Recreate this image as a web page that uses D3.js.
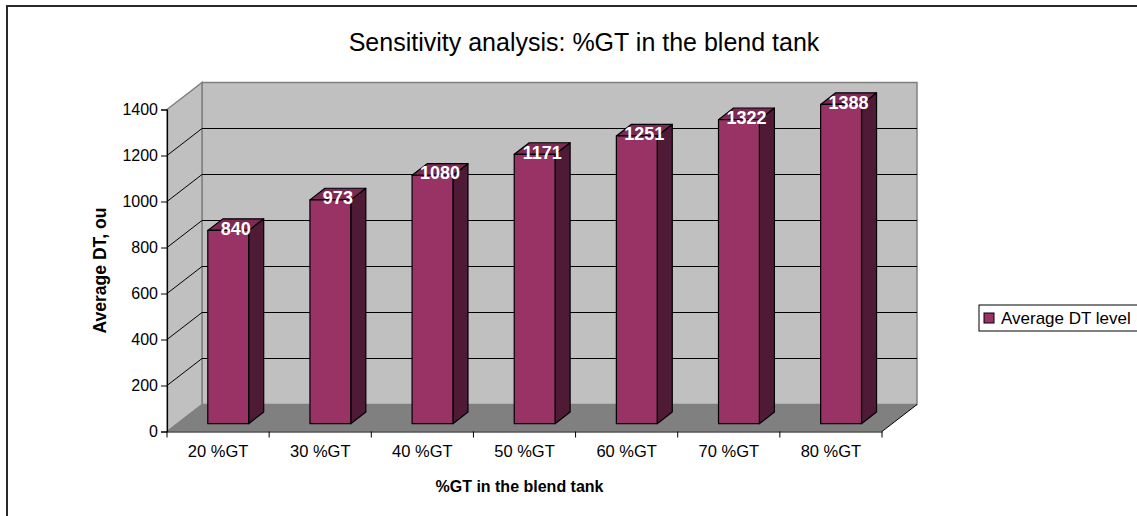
<!DOCTYPE html>
<html>
<head>
<meta charset="utf-8">
<script src="https://cdn.jsdelivr.net/npm/d3@7"></script>
<style>
  html, body { margin: 0; padding: 0; background: #fff; }
  svg { display: block; font-family: "Liberation Sans", Arial, sans-serif; }
</style>
</head>
<body>
<svg id="chart" width="1137" height="516"></svg>
<script>
// Chart data
const categories = ["20 %GT", "30 %GT", "40 %GT", "50 %GT", "60 %GT", "70 %GT", "80 %GT"];
const dtLevels = [840, 973, 1080, 1171, 1251, 1322, 1388];
const yTicks = [0, 200, 400, 600, 800, 1000, 1200, 1400];
const seriesName = "Average DT level";
const titleText = "Sensitivity analysis: %GT in the blend tank";
const xTitle = "%GT in the blend tank";
const yTitle = "Average DT, ou";

const svg = d3.select("#chart");

// Front plane of the 3D box, plus the depth vector to the back wall
const plot = { left: 167, right: 882, top: 109.5, bottom: 431.5 };
const depth = { dx: 35, dy: -27 };
const barDepthStart = 0.29, barDepthSize = 0.43;

const x = d3.scaleBand().domain(categories).range([plot.left, plot.right]).paddingInner(0).paddingOuter(0);
const y = d3.scaleLinear().domain([0, 1400]).range([plot.bottom, plot.top]);

const colors = {
  wall: "#c0c0c0", floor: "#808080", wallEdge: "#808080",
  front: "#993366", side: "#4f1a35", top: "#7d2a55"
};

// Outer chart frame
svg.append("rect").attr("x", 7).attr("y", 6).attr("width", 1200).attr("height", 600)
  .attr("fill", "none").attr("stroke", "#2a2a2a").attr("stroke-width", 2);

// Title
svg.append("text").attr("x", 584).attr("y", 51).attr("text-anchor", "middle")
  .attr("font-size", 25).attr("fill", "#000").text(titleText);

const pts = p => p.map(d => d.join(",")).join(" ");
const bx = plot.left + depth.dx, by = depth.dy;

// Back wall
svg.append("polygon").attr("points", pts([
  [bx, plot.top + by], [plot.right + depth.dx, plot.top + by],
  [plot.right + depth.dx, plot.bottom + by], [bx, plot.bottom + by]
])).attr("fill", colors.wall).attr("stroke", colors.wallEdge).attr("stroke-width", 1.5);

// Side wall
svg.append("polygon").attr("points", pts([
  [plot.left, plot.top], [bx, plot.top + by], [bx, plot.bottom + by], [plot.left, plot.bottom]
])).attr("fill", colors.wall).attr("stroke", colors.wallEdge).attr("stroke-width", 1.5);

// Gridlines on side and back walls
const gridVals = yTicks.filter(v => v > 0 && v < 1400);
const grid = svg.append("g").attr("stroke", "#000").attr("stroke-width", 1);
gridVals.forEach(v => {
  grid.append("line").attr("x1", plot.left).attr("y1", y(v)).attr("x2", bx).attr("y2", y(v) + by);
  grid.append("line").attr("x1", bx).attr("y1", y(v) + by).attr("x2", plot.right + depth.dx).attr("y2", y(v) + by);
});

// Floor
svg.append("polygon").attr("points", pts([
  [plot.left, plot.bottom], [bx, plot.bottom + by],
  [plot.right + depth.dx, plot.bottom + by], [plot.right, plot.bottom]
])).attr("fill", colors.floor).attr("stroke", "none");
svg.append("line").attr("x1", plot.right).attr("y1", plot.bottom)
  .attr("x2", plot.right + depth.dx).attr("y2", plot.bottom + by)
  .attr("stroke", "#000").attr("stroke-width", 1);

// Bars
const bw = x.bandwidth() / 2.5;
const ox = depth.dx * barDepthStart, oy = depth.dy * barDepthStart;
const ddx = depth.dx * barDepthSize, ddy = depth.dy * barDepthSize;
const bars = svg.append("g").attr("stroke", "#000").attr("stroke-width", 1.2).attr("stroke-linejoin", "round");
categories.forEach((c, i) => {
  const v = dtLevels[i];
  const x0 = x(c) + (x.bandwidth() - bw) / 2 + ox;
  const x1 = x0 + bw;
  const yb = y(0) + oy, yt = y(v) + oy;
  const g = bars.append("g");
  g.append("polygon").attr("points", pts([[x1, yb], [x1 + ddx, yb + ddy], [x1 + ddx, yt + ddy], [x1, yt]]))
    .attr("fill", colors.side);
  g.append("polygon").attr("points", pts([[x0, yt], [x1, yt], [x1 + ddx, yt + ddy], [x0 + ddx, yt + ddy]]))
    .attr("fill", colors.top);
  g.append("rect").attr("x", x0).attr("y", yt).attr("width", bw).attr("height", yb - yt)
    .attr("fill", colors.front);
});

// Value labels on top of each bar
categories.forEach((c, i) => {
  const v = dtLevels[i];
  const cx = x(c) + x.bandwidth() / 2 + ox + ddx / 2;
  const cy = y(v) + oy + ddy / 2;
  svg.append("text").attr("x", cx).attr("y", cy + 4).attr("text-anchor", "middle")
    .attr("dominant-baseline", "central").attr("font-size", 18).attr("font-weight", "bold")
    .attr("fill", "#fff").text(v);
});

// Y axis
const yAxis = svg.append("g").attr("transform", `translate(${plot.left},0)`)
  .call(d3.axisLeft(y).tickValues(yTicks).tickSize(6).tickPadding(3).tickFormat(d3.format("d")));
yAxis.select(".domain").attr("stroke", "#000").attr("stroke-width", 1.2);
yAxis.selectAll("text").attr("font-size", 16).attr("fill", "#000")
  .attr("font-family", "'Liberation Sans', Arial, sans-serif");

// X axis with ticks at category boundaries
const xAxis = svg.append("g").attr("transform", `translate(0,${plot.bottom})`)
  .call(d3.axisBottom(x).tickSize(0).tickPadding(14));
xAxis.select(".domain").attr("stroke", "#000").attr("stroke-width", 1.2);
xAxis.selectAll("text").attr("font-size", 16.5).attr("fill", "#000")
  .attr("font-family", "'Liberation Sans', Arial, sans-serif");
const bounds = categories.map(c => x(c)).concat([plot.right]);
xAxis.selectAll(".bound").data(bounds).enter().append("line")
  .attr("x1", d => d).attr("x2", d => d).attr("y1", 0).attr("y2", 6)
  .attr("stroke", "#000").attr("stroke-width", 1);

// Axis titles
svg.append("text").attr("x", (plot.left + plot.right) / 2 - 5).attr("y", 492)
  .attr("text-anchor", "middle").attr("font-size", 16).attr("font-weight", "bold").text(xTitle);
svg.append("text").attr("transform", `translate(106,${(plot.top + plot.bottom) / 2}) rotate(-90)`)
  .attr("text-anchor", "middle").attr("font-size", 17.5).attr("font-weight", "bold").text(yTitle);

// Legend
const lg = svg.append("g").attr("transform", "translate(979,305)");
lg.append("rect").attr("x", 0).attr("y", 0).attr("width", 200).attr("height", 26)
  .attr("fill", "#fff").attr("stroke", "#000").attr("stroke-width", 1);
lg.append("rect").attr("x", 5).attr("y", 8).attr("width", 10).attr("height", 10)
  .attr("fill", colors.front).attr("stroke", "#000").attr("stroke-width", 1);
lg.append("text").attr("x", 22).attr("y", 19).attr("font-size", 17).text(seriesName);
</script>
</body>
</html>
